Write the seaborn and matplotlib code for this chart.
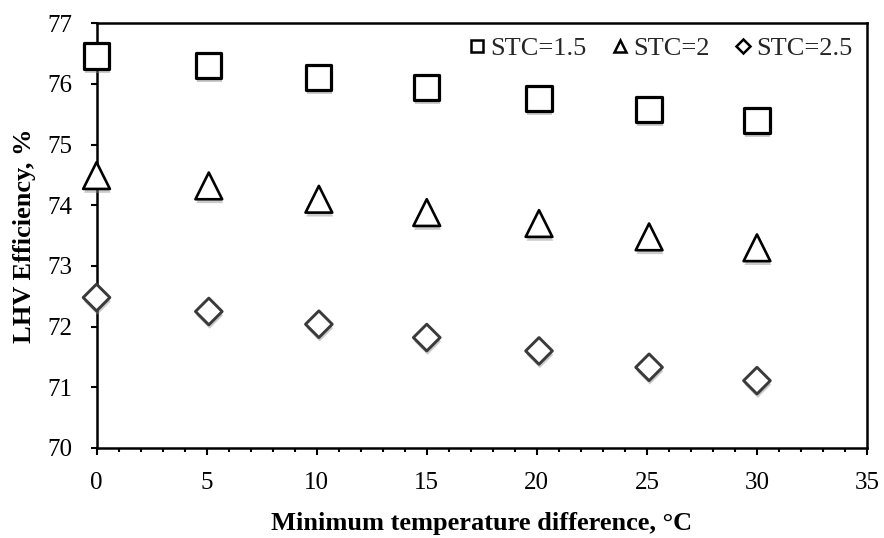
import numpy as np
import pandas as pd
import seaborn as sns
import matplotlib
matplotlib.use("Agg")
import matplotlib.pyplot as plt
import matplotlib.patheffects as pe
from matplotlib.lines import Line2D
from matplotlib.ticker import MultipleLocator

# Minimum temperature difference (°C)
dt_min = [0, 5.1, 10.1, 15.0, 20.1, 25.1, 30.0]
# LHV efficiency (%) for each steam-to-carbon ratio
eff_stc_15 = [76.46, 76.30, 76.11, 75.94, 75.76, 75.58, 75.40]
eff_stc_20 = [74.49, 74.32, 74.10, 73.88, 73.70, 73.48, 73.30]
eff_stc_25 = [72.48, 72.25, 72.04, 71.82, 71.60, 71.33, 71.11]
series_labels = ["STC=1.5", "STC=2", "STC=2.5"]

df = pd.DataFrame({
    "dt": dt_min * 3,
    "eff": eff_stc_15 + eff_stc_20 + eff_stc_25,
    "series": np.repeat(series_labels, len(dt_min)),
})

sns.set_theme(style="white")
plt.rcParams["font.family"] = ["Liberation Serif", "DejaVu Serif"]

fig = plt.figure(figsize=(8.84, 5.38), dpi=100)
ax = fig.add_axes([0.1092, 0.1673, 0.8716, 0.7894])

shadow = [pe.SimplePatchShadow(offset=(0.6, -2.8), shadow_rgbFace="0.55", alpha=0.45),
          pe.Normal()]

styles = {
    "STC=1.5": dict(marker="s", s=330, edgecolor="black", linewidth=2.3),
    "STC=2": dict(marker="^", s=370, edgecolor="black", linewidth=1.9),
    "STC=2.5": dict(marker="D", s=185, edgecolor="#3a3a3a", linewidth=2.1),
}

for lab in series_labels:
    sub = df[df["series"] == lab]
    sns.scatterplot(data=sub, x="dt", y="eff", ax=ax, color="white",
                    legend=False, zorder=3, clip_on=False, **styles[lab])
for coll in ax.collections:
    coll.set_path_effects(shadow)

ax.set_xlim(0, 35)
ax.set_ylim(70, 77)
ax.xaxis.set_major_locator(MultipleLocator(5))
ax.xaxis.set_minor_locator(MultipleLocator(1))
ax.yaxis.set_major_locator(MultipleLocator(1))

for sp in ax.spines.values():
    sp.set_visible(True)
    sp.set_color("black")
    sp.set_linewidth(1.8)

ax.tick_params(axis="both", which="major", direction="out", width=1.5,
               color="black", labelsize=18, labelcolor="black")
ax.tick_params(axis="y", which="major", length=4.5, pad=13, left=True)
ax.tick_params(axis="x", which="major", length=5, pad=12, bottom=True)
ax.tick_params(axis="x", which="minor", direction="out", length=3, width=1.5,
               color="black", bottom=True)

ax.set_xlabel("Minimum temperature difference, °C", fontsize=19,
              fontweight="bold", color="black", labelpad=13)
ax.set_ylabel("LHV Efficiency, %", fontsize=19, fontweight="bold",
              color="black", labelpad=8)

handles = [
    Line2D([], [], linestyle="none", marker="s", markersize=8,
           markerfacecolor="white", markeredgecolor="black", markeredgewidth=1.8),
    Line2D([], [], linestyle="none", marker="^", markersize=8.8,
           markerfacecolor="white", markeredgecolor="black", markeredgewidth=1.8),
    Line2D([], [], linestyle="none", marker="D", markersize=7,
           markerfacecolor="white", markeredgecolor="black", markeredgewidth=1.8),
]
ax.legend(handles, series_labels, loc="upper right", ncol=3, frameon=False,
          fontsize=19, handlelength=0.5, handletextpad=0.25, columnspacing=1.0,
          bbox_to_anchor=(0.9805, 0.968), borderaxespad=0, borderpad=0)

fig.savefig("out.png", dpi=100)
